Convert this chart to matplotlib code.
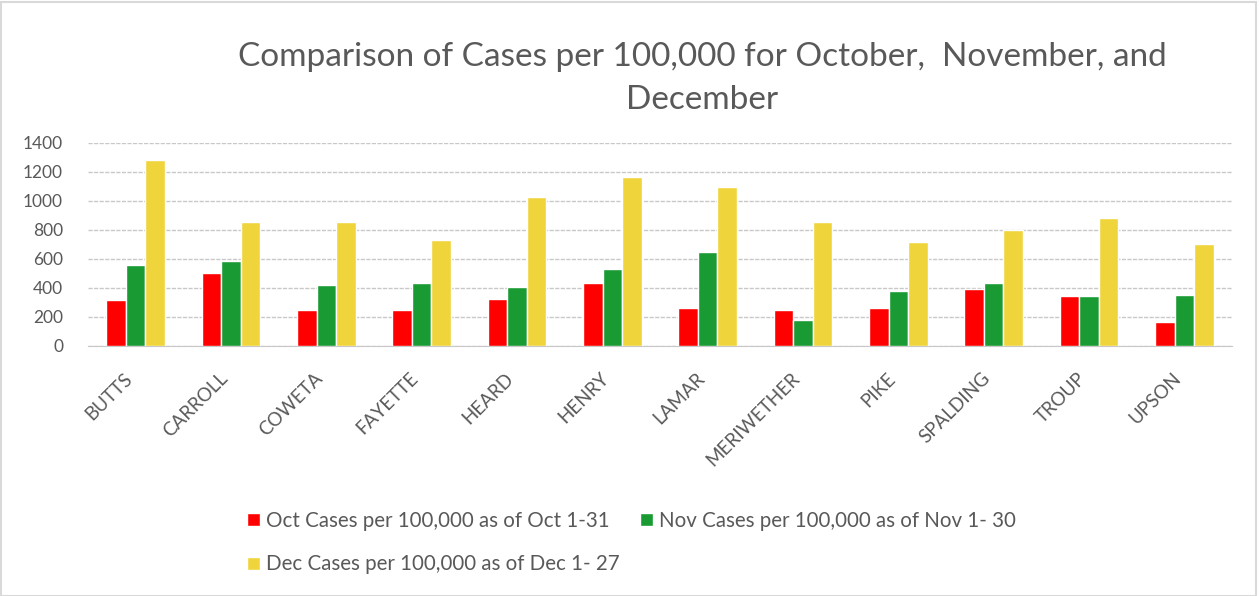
import numpy as np
import matplotlib
matplotlib.use("Agg")
import matplotlib.pyplot as plt
from matplotlib.patches import Rectangle

plt.rcParams['font.family'] = ['Lato', 'DejaVu Sans']

# Counties shown on the x axis.
counties = ["BUTTS", "CARROLL", "COWETA", "FAYETTE", "HEARD", "HENRY",
            "LAMAR", "MERIWETHER", "PIKE", "SPALDING", "TROUP", "UPSON"]

# Cases per 100,000.
oct_cases = [314, 503, 246, 246, 326, 436, 259, 246, 259, 395, 342, 165]
nov_cases = [555, 583, 422, 434, 408, 530, 649, 179, 381, 434, 342, 353]
dec_cases = [1283, 851, 851, 732, 1028, 1161, 1095, 851, 718, 801, 879, 705]

series_labels = ["Oct Cases per 100,000 as of Oct 1-31",
                 "Nov Cases per 100,000 as of Nov 1- 30",
                 "Dec Cases per 100,000 as of Dec 1- 27"]
series_colors = ["#FF0000", "#1A9A32", "#EFD43B"]

yticks = [0, 200, 400, 600, 800, 1000, 1200, 1400]
text_color = "#595959"

fig = plt.figure(figsize=(12.59, 5.96), dpi=100)
ax = fig.add_axes([0.0699, 0.4195, 0.9087, 0.3411])

x = np.arange(len(counties))
width = 0.205
bars = []
for k, (vals, lab, col) in enumerate(zip([oct_cases, nov_cases, dec_cases],
                                         series_labels, series_colors)):
    b = ax.bar(x + (k - 1) * width, vals, width, color=col, label=lab,
               edgecolor="white", linewidth=1, zorder=3)
    bars.append(b)

ax.set_xlim(-0.5, len(counties) - 0.5)
ax.set_ylim(0, 1400)
ax.set_yticks(yticks)
ax.yaxis.grid(True, color="#C8C8C8", linestyle=(0, (3, 1)), linewidth=1, zorder=0)
for s in ["top", "right", "left"]:
    ax.spines[s].set_visible(False)
ax.spines["bottom"].set_color("#C8C8C8")
ax.tick_params(axis="y", length=0, pad=18, labelsize=12.5, labelcolor=text_color)
ax.tick_params(axis="x", length=0, pad=17, labelsize=13.5, labelcolor=text_color)
ax.set_xticks(x)
ax.set_xticklabels(counties, rotation=45, ha="right")

fig.text(0.558, 0.905, "Comparison of Cases per 100,000 for October,  November, and",
         ha="center", va="center", fontsize=24, color=text_color)
fig.text(0.558, 0.832, "December", ha="center", va="center", fontsize=24,
         color=text_color)

# Reorder so that Oct and Nov share the first row, Dec sits below Oct.
handles = [bars[0], bars[2], bars[1]]
labels = [series_labels[0], series_labels[2], series_labels[1]]
fig.legend(handles, labels, loc="upper left", bbox_to_anchor=(0.196, 0.143),
           ncol=2, frameon=False, fontsize=14.8, labelcolor=text_color,
           handlelength=0.62, handleheight=0.62, handletextpad=0.3,
           columnspacing=1.0, labelspacing=1.15, borderaxespad=0, borderpad=0)

# Chart border.
fig.patches.append(Rectangle((0.001, 0.0), 0.997, 0.997, transform=fig.transFigure,
                             fill=False, edgecolor="#D9D9D9", linewidth=1.5))

fig.savefig("out.png", dpi=100)
